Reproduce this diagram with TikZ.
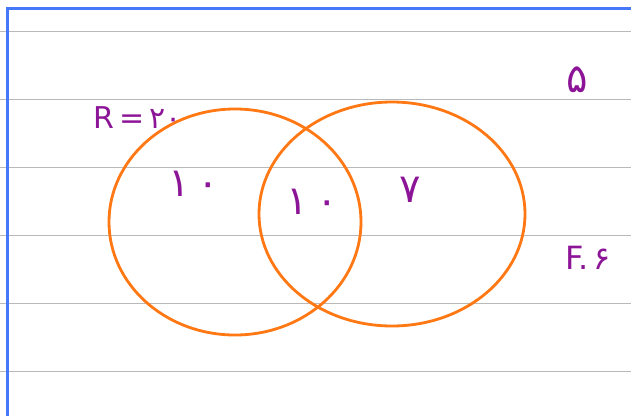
\documentclass[tikz,border=0pt]{standalone}
\usepackage{fontspec}
\newfontfamily\farsi{DejaVu Sans}
\usepackage{tikz}
\usetikzlibrary{positioning}
\definecolor{ruleblue}{RGB}{70,120,250}
\definecolor{linegray}{RGB}{185,185,185}
\definecolor{setorange}{RGB}{255,120,20}
\definecolor{inkpurple}{RGB}{140,20,150}

\begin{document}
\begin{tikzpicture}[x=1pt, y=-1pt,
        set/.style={draw=setorange, line width=2.8pt},
        count/.style={text=inkpurple, font=\farsi\fontsize{40}{42}\selectfont, inner sep=0pt}]
      \useasboundingbox (0,0) rectangle (631,416);
      % ruled paper
      \foreach \y in {31,99,167,235,303,371}
        \draw[linegray, line width=1pt] (0,\y) -- (631,\y);
      \draw[ruleblue, line width=3pt] (7,416) -- (7,8) -- (631,8);
      % the two sets
      \draw[set] (235,222) ellipse [x radius=126, y radius=113];
      \draw[set] (392,214) ellipse [x radius=133, y radius=112];
      % counts
      \node[count, font=\farsi\fontsize{30}{32}\selectfont] (rtotal) at (138,118) {R\,=\,۲۰};
      \node[count] (ronly) at (194,184) {۱\kern8pt۰};
      \node[count] (both) at (312,202) {۱\kern8pt۰};
      \node[count] (fonly) at (410,190) {۷};
      \node[count] (outside) at (577,80) {۵};
      \node[count, font=\farsi\fontsize{32}{34}\selectfont] (ftotal) at (588,258) {F.\kern4pt۶};
    \end{tikzpicture}
\end{document}
